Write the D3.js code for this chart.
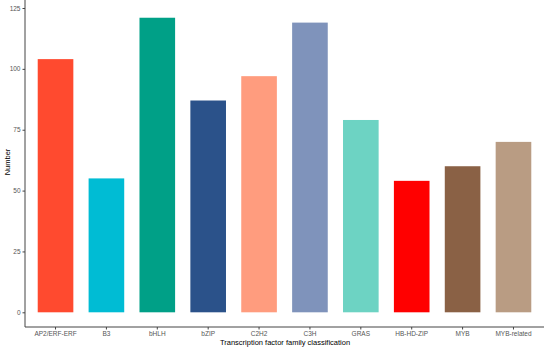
<!DOCTYPE html>
<html>
<head>
<meta charset="utf-8">
<script src="https://cdn.jsdelivr.net/npm/d3@7"></script>
<style>
  body { margin: 0; background: #fff; }
  svg text { font-family: "Liberation Sans", Arial, sans-serif; }
</style>
</head>
<body>
<div id="chart"></div>
<script>
const families = ["AP2/ERF-ERF", "B3", "bHLH", "bZIP", "C2H2", "C3H", "GRAS", "HB-HD-ZIP", "MYB", "MYB-related"];
const counts = [104, 55, 121, 87, 97, 119, 79, 54, 60, 70];
const barColors = ["#FF4A2F", "#00BCD4", "#00A087", "#2B528A", "#FF9C7E", "#7F93BB", "#6DD3C3", "#FF0000", "#8A6145", "#B99C83"];
const yTicks = [0, 25, 50, 75, 100, 125];

const width = 550, height = 348;
const margin = { top: 8, right: 6, bottom: 36, left: 25 };

const svg = d3.select("#chart")
  .append("svg")
  .attr("width", width)
  .attr("height", height);

const data = families.map((f, i) => ({ family: f, n: counts[i], color: barColors[i] }));

// discrete scale like ggplot: 0.6 expansion each side, bar width 0.7
const x = d3.scaleBand()
  .domain(families)
  .range([margin.left, width - margin.right])
  .paddingInner(0.3)
  .paddingOuter(0.25);

const y = d3.scaleLinear()
  .domain([0, 125])
  .range([312.3, 8]);

// bars
svg.selectAll(".bar")
  .data(data)
  .enter()
  .append("rect")
  .attr("class", "bar")
  .attr("x", d => x(d.family))
  .attr("width", x.bandwidth())
  .attr("y", d => y(d.n))
  .attr("height", d => y(0) - y(d.n))
  .attr("fill", d => d.color);

// y axis
const yAxis = svg.append("g")
  .attr("transform", "translate(" + margin.left + ",0)")
  .call(d3.axisLeft(y).tickValues(yTicks).tickSize(2.5).tickPadding(2));
yAxis.select(".domain").attr("d", "M0,0V" + 327).attr("stroke", "#444").attr("stroke-width", 1);
yAxis.selectAll(".tick line").attr("stroke", "#444");
yAxis.selectAll(".tick text").attr("fill", "#555").attr("font-size", 6.5);

// x axis
const xAxis = svg.append("g")
  .attr("transform", "translate(0,327)")
  .call(d3.axisBottom(x).tickSize(2.5).tickPadding(2));
xAxis.select(".domain").attr("d", "M" + margin.left + ",0H" + (width - margin.right)).attr("stroke", "#444").attr("stroke-width", 1);
xAxis.selectAll(".tick line").attr("stroke", "#444");
xAxis.selectAll(".tick text").attr("fill", "#555").attr("font-size", 6.5);

// titles
svg.append("text")
  .attr("text-anchor", "middle")
  .attr("x", 285)
  .attr("y", 345)
  .attr("font-size", 7.5)
  .attr("fill", "#000")
  .text("Transcription factor family classification");

svg.append("text")
  .attr("text-anchor", "middle")
  .attr("transform", "rotate(-90)")
  .attr("x", -162)
  .attr("y", 10)
  .attr("font-size", 7.5)
  .attr("fill", "#000")
  .text("Number");
</script>
</body>
</html>
